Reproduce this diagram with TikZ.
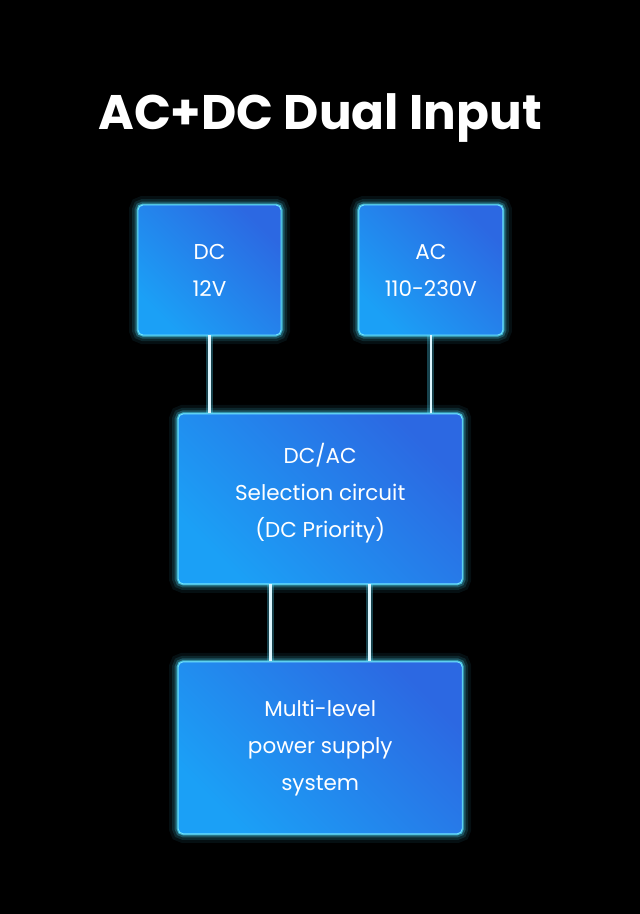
\documentclass[tikz,border=0pt]{standalone}
\usepackage{fontspec}
\setmainfont{Poppins}
\usetikzlibrary{positioning,calc}
\definecolor{boxlight}{HTML}{1BA0F6}
\definecolor{boxdark}{HTML}{2C68E2}
\definecolor{glowcyan}{HTML}{4FDDFF}
\definecolor{wirewhite}{HTML}{DDF6FF}

\begin{document}
\begin{tikzpicture}[x=1pt, y=-1pt,
  block/.style={rectangle, rounded corners=5pt, inner sep=0pt,
                bottom color=boxlight, top color=boxdark, shading angle=-45,
                draw=glowcyan!80, line width=0.9pt,
                text=white, align=center,
                font=\fontsize{21.5}{37}\selectfont,
                preaction={draw=glowcyan, line width=18pt, opacity=0.07},
                preaction={draw=glowcyan, line width=12pt, opacity=0.12},
                preaction={draw=glowcyan, line width=7pt, opacity=0.25},
                preaction={draw=glowcyan, line width=3pt, opacity=0.7}},
  wire/.style={wirewhite, line width=2.6pt,
               preaction={draw=glowcyan, line width=7pt, opacity=0.3}},
]
  %% Page and title
  \fill[black] (0,0) rectangle (640,914);
  \node[text=white, font=\fontsize{48.5}{58}\selectfont\bfseries] (title)
    at (320,118) {AC+DC Dual Input};

  %% Input boxes
  \node[block, minimum width=143pt, minimum height=130pt] (dc)
    at (209.5,270) {DC\\12V};
  \node[block, minimum width=144pt, minimum height=130pt, right=77pt of dc] (ac)
    {AC\\110-230V};

  %% Selection and supply boxes
  \node[block, minimum width=284pt, minimum height=170pt,
        below=78pt of $(dc.south)!0.5!(ac.south)$] (sel)
    {DC/AC\\Selection circuit\\(DC Priority)\\[-20pt]\mbox{}};
  \node[block, minimum width=284pt, minimum height=172pt, below=77pt of sel] (sys)
    {Multi-level\\power supply\\system};

  %% Connectors
  \draw[wire] (dc.south) -- (dc.south |- sel.north);
  \draw[wire] (ac.south) -- (ac.south |- sel.north);
  \coordinate (outl) at ($(sel.south)+(-50,0)$);
  \coordinate (outr) at ($(sel.south)+(49,0)$);
  \draw[wire] (outl) -- (outl |- sys.north);
  \draw[wire] (outr) -- (outr |- sys.north);
\end{tikzpicture}
\end{document}
